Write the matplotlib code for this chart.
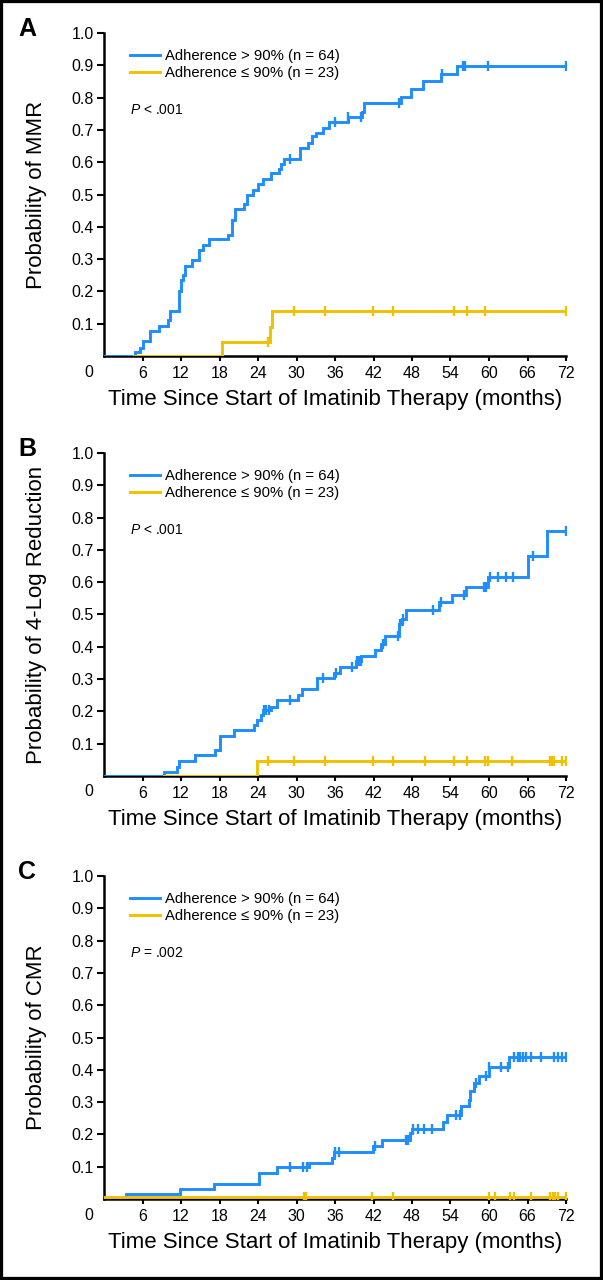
import numpy as np
import matplotlib
matplotlib.use('Agg')
import matplotlib.pyplot as plt
import matplotlib.transforms as mtransforms
from matplotlib.patches import Rectangle

plt.rcParams['font.family'] = ['Liberation Sans', 'DejaVu Sans']
plt.rcParams['mathtext.fontset'] = 'custom'
plt.rcParams['mathtext.it'] = 'Liberation Sans:italic'
plt.rcParams['mathtext.rm'] = 'Liberation Sans'

BLUE = '#1E8EFF'
YELLOW = '#EFC100'
NARROW = ['Liberation Sans Narrow', 'Liberation Sans', 'DejaVu Sans']

X_TICKS = [6, 12, 18, 24, 30, 36, 42, 48, 54, 60, 66, 72]
Y_TICKS = [0.1, 0.2, 0.3, 0.4, 0.5, 0.6, 0.7, 0.8, 0.9, 1.0]
LEGEND_LABELS = ['Adherence > 90% (n = 64)', 'Adherence \u2264 90% (n = 23)']

# Panel A: MMR
A_BLUE_T = [4.8, 5.6, 6.0, 7.1, 8.6, 10.0, 10.3, 11.7, 12.0, 12.3, 12.7, 13.7,
            14.8, 15.5, 16.3, 19.3, 19.9, 20.4, 21.8, 22.3, 23.2, 24.0, 24.8,
            26.1, 27.2, 27.6, 28.0, 30.5, 31.8, 32.4, 33.0, 34.1, 35.1, 38.1,
            40.2, 40.5, 46.3, 47.9, 49.7, 52.5, 55.0]
A_BLUE_P = [0.012, 0.025, 0.045, 0.078, 0.094, 0.11, 0.14, 0.20, 0.235, 0.25,
            0.28, 0.297, 0.328, 0.344, 0.361, 0.375, 0.421, 0.454, 0.47, 0.498,
            0.515, 0.532, 0.547, 0.566, 0.58, 0.596, 0.61, 0.643, 0.659, 0.68,
            0.692, 0.707, 0.723, 0.739, 0.757, 0.782, 0.803, 0.826, 0.85,
            0.872, 0.897]
A_BLUE_CENS = [29.0, 36.0, 38.1, 40.1, 46.0, 52.6, 56.0, 56.3, 59.9, 72.0]
A_YEL_START = 4.7
A_YEL_T = [18.4, 25.9, 26.2]
A_YEL_P = [0.0435, 0.09, 0.139]
A_YEL_CENS = [25.5, 29.6, 34.4, 41.9, 45.0, 54.6, 56.5, 59.3, 72.0]

# Panel B: 4-log reduction
B_BLUE_T = [9.4, 11.4, 11.7, 14.2, 17.3, 18.0, 20.2, 23.3, 23.8, 24.5, 24.8,
            26.0, 26.9, 30.2, 30.8, 33.2, 35.9, 36.8, 39.2, 40.1, 42.2, 43.1,
            43.8, 45.9, 46.5, 47.1, 52.2, 54.3, 56.4, 59.9, 66.0, 69.0]
B_BLUE_P = [0.012, 0.028, 0.045, 0.064, 0.081, 0.123, 0.141, 0.157, 0.172,
            0.188, 0.203, 0.213, 0.234, 0.252, 0.27, 0.303, 0.32, 0.337, 0.356,
            0.373, 0.39, 0.41, 0.433, 0.47, 0.485, 0.515, 0.538, 0.56, 0.585,
            0.615, 0.68, 0.76]
B_BLUE_CENS = [25.0, 25.3, 25.7, 29.0, 34.1, 36.2, 38.6, 39.5, 39.8, 40.0,
               43.5, 45.8, 46.2, 46.6, 51.3, 52.5, 56.1, 59.2, 59.6, 60.2,
               61.4, 62.6, 63.8, 66.9, 72.0]
B_YEL_START = 9.4
B_YEL_T = [23.8]
B_YEL_P = [0.045]
B_YEL_CENS = [25.5, 29.6, 34.4, 41.9, 45.0, 50.1, 54.6, 56.5, 59.3, 59.9,
              63.6, 69.5, 69.8, 70.2, 71.3, 72.0]

# Panel C: CMR
C_BLUE_T = [3.5, 11.9, 17.1, 24.1, 27.0, 32.0, 35.6, 35.9, 41.9, 43.4, 47.7,
            48.0, 52.8, 53.5, 55.6, 56.9, 57.1, 57.6, 58.5, 60.0, 63.1]
C_BLUE_P = [0.015, 0.032, 0.047, 0.08, 0.098, 0.113, 0.127, 0.147, 0.163,
            0.183, 0.204, 0.218, 0.24, 0.26, 0.287, 0.307, 0.333, 0.359, 0.38,
            0.41, 0.44]
C_BLUE_CENS = [29.0, 31.0, 31.7, 36.0, 36.7, 42.2, 47.0, 47.4, 48.2, 49.0,
               49.9, 51.1, 54.9, 55.5, 58.0, 59.6, 60.0, 61.8, 62.9, 63.9,
               64.5, 64.9, 65.3, 65.7, 66.5, 68.1, 70.2, 70.8, 71.4, 72.0]
C_YEL_START = 0.0
C_YEL_T = [0.0]
C_YEL_P = [0.006]
C_YEL_CENS = [31.2, 31.5, 41.8, 45.0, 60.0, 60.9, 63.3, 63.9, 66.6, 69.5,
              69.9, 70.3, 70.8, 72.0]

PANELS = [
    ('A', 'Probability of MMR', 'P < .001', 0.9742,
     (A_BLUE_T, A_BLUE_P, A_BLUE_CENS, 0.0),
     (A_YEL_T, A_YEL_P, A_YEL_CENS, A_YEL_START)),
    ('B', 'Probability of 4-Log Reduction', 'P < .001', 0.6461,
     (B_BLUE_T, B_BLUE_P, B_BLUE_CENS, 0.0),
     (B_YEL_T, B_YEL_P, B_YEL_CENS, B_YEL_START)),
    ('C', 'Probability of CMR', 'P = .002', 0.3156,
     (C_BLUE_T, C_BLUE_P, C_BLUE_CENS, 0.0),
     (C_YEL_T, C_YEL_P, C_YEL_CENS, C_YEL_START)),
]


def km(ax, times, probs, cens, start, color):
    x = [start] + list(times) + [72.0]
    y = [0.0] + list(probs) + [probs[-1]]
    if times[0] == start:
        x, y = x[1:], y[1:]
    ax.step(x, y, where='post', color=color, lw=2.1, zorder=3,
            solid_joinstyle='miter')
    t = np.array(times)
    p = np.array(probs)
    idx = np.searchsorted(t, np.array(cens), side='right') - 1
    cy = np.where(idx >= 0, p[np.clip(idx, 0, None)], 0.0)
    ax.plot(cens, cy, ls='none', marker='|', ms=6.5, mew=1.7, color=color,
            zorder=4)


fig = plt.figure(figsize=(6.03, 12.8), dpi=100)
fig.patch.set_facecolor('white')

left, width, height = 104 / 603, 462 / 603, 323 / 1280
for letter, ylab, ptxt, top, blue, yel in PANELS:
    ax = fig.add_axes([left, top - height, width, height])
    km(ax, *blue[:3], blue[3], BLUE)
    km(ax, *yel[:3], yel[3], YELLOW)
    ax.set_xlim(0, 72)
    ax.set_ylim(0, 1.0)
    ax.set_xticks(X_TICKS)
    ax.set_yticks(Y_TICKS)
    ax.set_yticklabels([f'{v:.1f}' for v in Y_TICKS])
    for s in ['top', 'right']:
        ax.spines[s].set_visible(False)
    for s in ['left', 'bottom']:
        ax.spines[s].set_linewidth(1.8)
        ax.spines[s].set_zorder(2.5)
    ax.tick_params(axis='y', length=5, width=1.5, pad=2.5, labelsize=11.5)
    ax.tick_params(axis='x', length=3.5, width=1.5, pad=3.5, labelsize=11.5)

    off = mtransforms.offset_copy(ax.transData, fig=fig, x=-15, y=-16,
                                  units='dots')
    ax.text(0, 0, '0', transform=off, ha='center', va='center', fontsize=11.5)

    ax.xaxis.set_label_coords(0.5, -0.102)
    ax.set_xlabel('Time Since Start of Imatinib Therapy (months)',
                  fontsize=16, family=NARROW)
    fig.text(37 / 603, top - height / 2, ylab, rotation=90, ha='center',
             va='center', fontsize=16, family=NARROW)
    fig.text(27 / 603, top + 0.003, letter, ha='center', va='center',
             fontsize=18, fontweight='bold')

    handles = [plt.Line2D([], [], color=BLUE, lw=2.1),
               plt.Line2D([], [], color=YELLOW, lw=2.1)]
    ax.legend(handles, LEGEND_LABELS, loc='upper left',
              bbox_to_anchor=(0.056, 0.950), frameon=False, fontsize=10.7,
              handlelength=2.0, handletextpad=0.35, labelspacing=0.22,
              borderpad=0, borderaxespad=0)
    ax.text(0.056, 0.762, ptxt.replace('P', '$P$', 1), transform=ax.transAxes,
            ha='left', va='center', fontsize=10)

fig.add_artist(Rectangle((0, 0), 1, 1, transform=fig.transFigure, fill=False,
                         edgecolor='black', linewidth=4.5))

fig.savefig('out.png', dpi=100, facecolor='white')
